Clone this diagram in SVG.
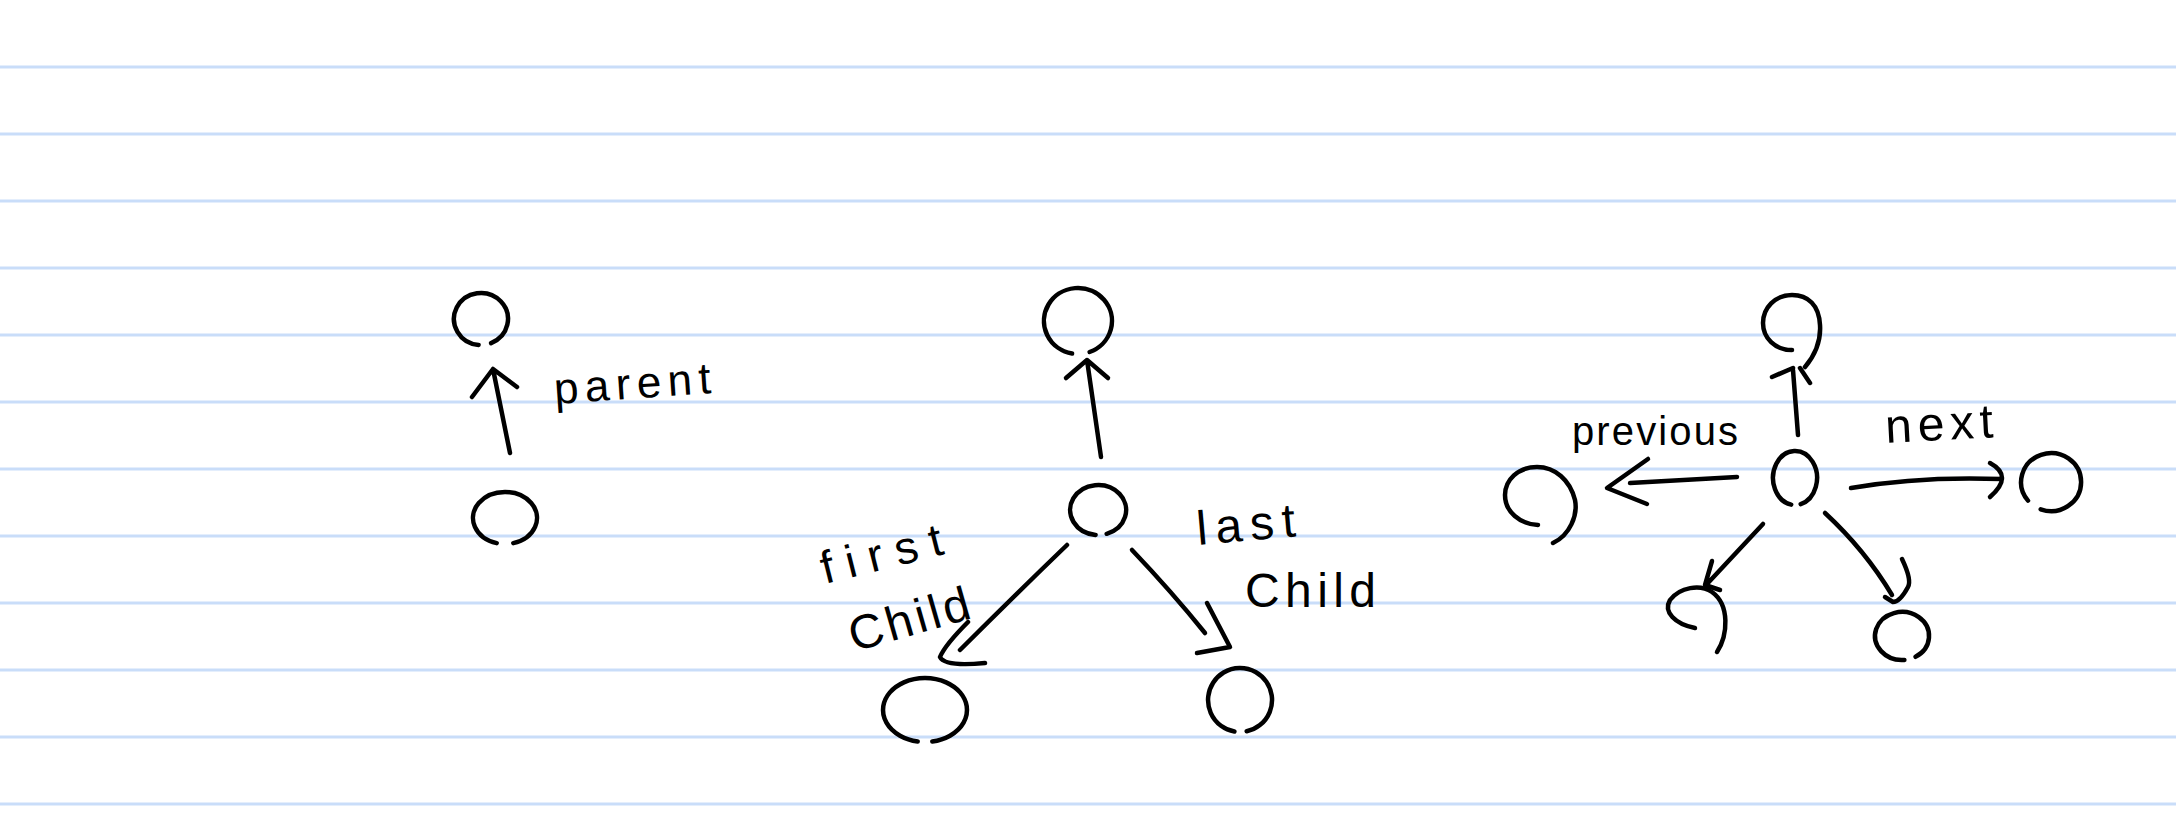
<svg xmlns="http://www.w3.org/2000/svg" width="2176" height="840" viewBox="0 0 2176 840">
<style>
.rule{stroke:#c9ddf9;stroke-width:3}
.ink{fill:none;stroke:#000;stroke-width:4.5;stroke-linecap:round;stroke-linejoin:round}
.lbl{font-family:"Liberation Sans",Arial,sans-serif;fill:#000}
</style>
<rect width="2176" height="840" fill="#fff"/>
<g id="paper">
<line class="rule" x1="0" y1="67" x2="2176" y2="67"/>
<line class="rule" x1="0" y1="134" x2="2176" y2="134"/>
<line class="rule" x1="0" y1="201" x2="2176" y2="201"/>
<line class="rule" x1="0" y1="268" x2="2176" y2="268"/>
<line class="rule" x1="0" y1="335" x2="2176" y2="335"/>
<line class="rule" x1="0" y1="402" x2="2176" y2="402"/>
<line class="rule" x1="0" y1="469" x2="2176" y2="469"/>
<line class="rule" x1="0" y1="536" x2="2176" y2="536"/>
<line class="rule" x1="0" y1="603" x2="2176" y2="603"/>
<line class="rule" x1="0" y1="670" x2="2176" y2="670"/>
<line class="rule" x1="0" y1="737" x2="2176" y2="737"/>
<line class="rule" x1="0" y1="804" x2="2176" y2="804"/>
</g>
<g id="node-a-parent"><path class="ink" d="M491.1,343.1 A27,26 0 1 0 478.6,344.9"/></g>
<g id="node-a-child"><path class="ink" d="M513.3,543.1 A32,26 0 1 0 496.7,543.1"/></g>
<g id="node-b-parent"><path class="ink" d="M1089.6,352 A34,33 0 1 0 1072.1,353.5"/></g>
<g id="node-b-mid"><path class="ink" d="M1106.7,533.8 A28,25 0 1 0 1095.6,534.9"/></g>
<g id="node-b-first"><path class="ink" d="M932.3,741.5 A42,32 0 1 0 917.7,741.5"/></g>
<g id="node-b-last"><path class="ink" d="M1246.7,731.3 A32,32 0 1 0 1234.4,731.5"/></g>
<g id="node-c-parent"><path class="ink" d="M1805,367 C1815,355 1821,340 1820,325 C1819,305 1808,295 1792,295 C1775,295 1763,308 1763,323 C1763,338 1775,350 1792,350"/></g>
<g id="node-c-mid"><path class="ink" d="M1800.7,504.1 A22,27 0 1 0 1791.2,504.6"/></g>
<g id="node-c-prev"><path class="ink" d="M1553,543 C1570,535 1578,515 1575,500 C1570,480 1555,467 1537,467 C1518,467 1505,480 1505,495 C1505,512 1520,524 1538,525"/></g>
<g id="node-c-next"><path class="ink" d="M2040.7,509.3 A30,29 0 1 0 2028,500.6"/></g>
<g id="node-c-first"><path class="ink" d="M1717,652 C1728,635 1730,605 1712,592 C1700,584 1680,587 1670,600 C1663,612 1675,624 1695,628"/></g>
<g id="node-c-last"><path class="ink" d="M1915.5,656.8 A27,24 0 1 0 1904.4,659.9"/></g>
<g id="connectors">
<path class="ink" d="M510,453 L493,369 M472,397 L493,369 L517,387"/>
<path class="ink" d="M1101,457 L1087,360 M1066,378 L1087,360 L1108,378"/>
<path class="ink" d="M1067,545 Q1015,595 960,650 M968,622 Q945,645 940,657 Q945,667 985,663"/>
<path class="ink" d="M1132,550 Q1172,592 1205,633 M1207,603 L1230,647 L1197,653"/>
<path class="ink" d="M1798,435 L1793,370 M1772,377 L1793,368 M1810,383 L1800,368"/>
<path class="ink" d="M1737,477 L1630,483 M1648,459 L1607,488 L1647,504"/>
<path class="ink" d="M1851,488 Q1919,476 2002,479 M1990,463 Q2014,476 1990,497"/>
<path class="ink" d="M1763,524 L1707,584 M1712,561 L1705,585 L1720,590"/>
<path class="ink" d="M1825,513 Q1865,550 1892,595 M1902,559 Q1912,580 1908,587 Q1900,602 1893,602 L1885,597"/>
</g>
<g id="labels">
<text class="lbl" font-size="44" x="555" y="404" textLength="157" lengthAdjust="spacing" transform="rotate(-4 555 404)">parent</text>
<text class="lbl" font-size="46" x="825" y="584" textLength="124" lengthAdjust="spacing" transform="rotate(-14 825 584)">first</text>
<text class="lbl" font-size="48" x="854" y="652" textLength="124" lengthAdjust="spacing" transform="rotate(-16 854 652)">Child</text>
<text class="lbl" font-size="48" x="1198" y="545" textLength="99" lengthAdjust="spacing" transform="rotate(-5 1198 545)">last</text>
<text class="lbl" font-size="48" x="1245" y="607" textLength="131" lengthAdjust="spacing">Child</text>
<text class="lbl" font-size="40" x="1572" y="445" textLength="166" lengthAdjust="spacing">previous</text>
<text class="lbl" font-size="48" x="1886" y="443" textLength="108" lengthAdjust="spacing" transform="rotate(-3 1886 443)">next</text>
</g>
</svg>
